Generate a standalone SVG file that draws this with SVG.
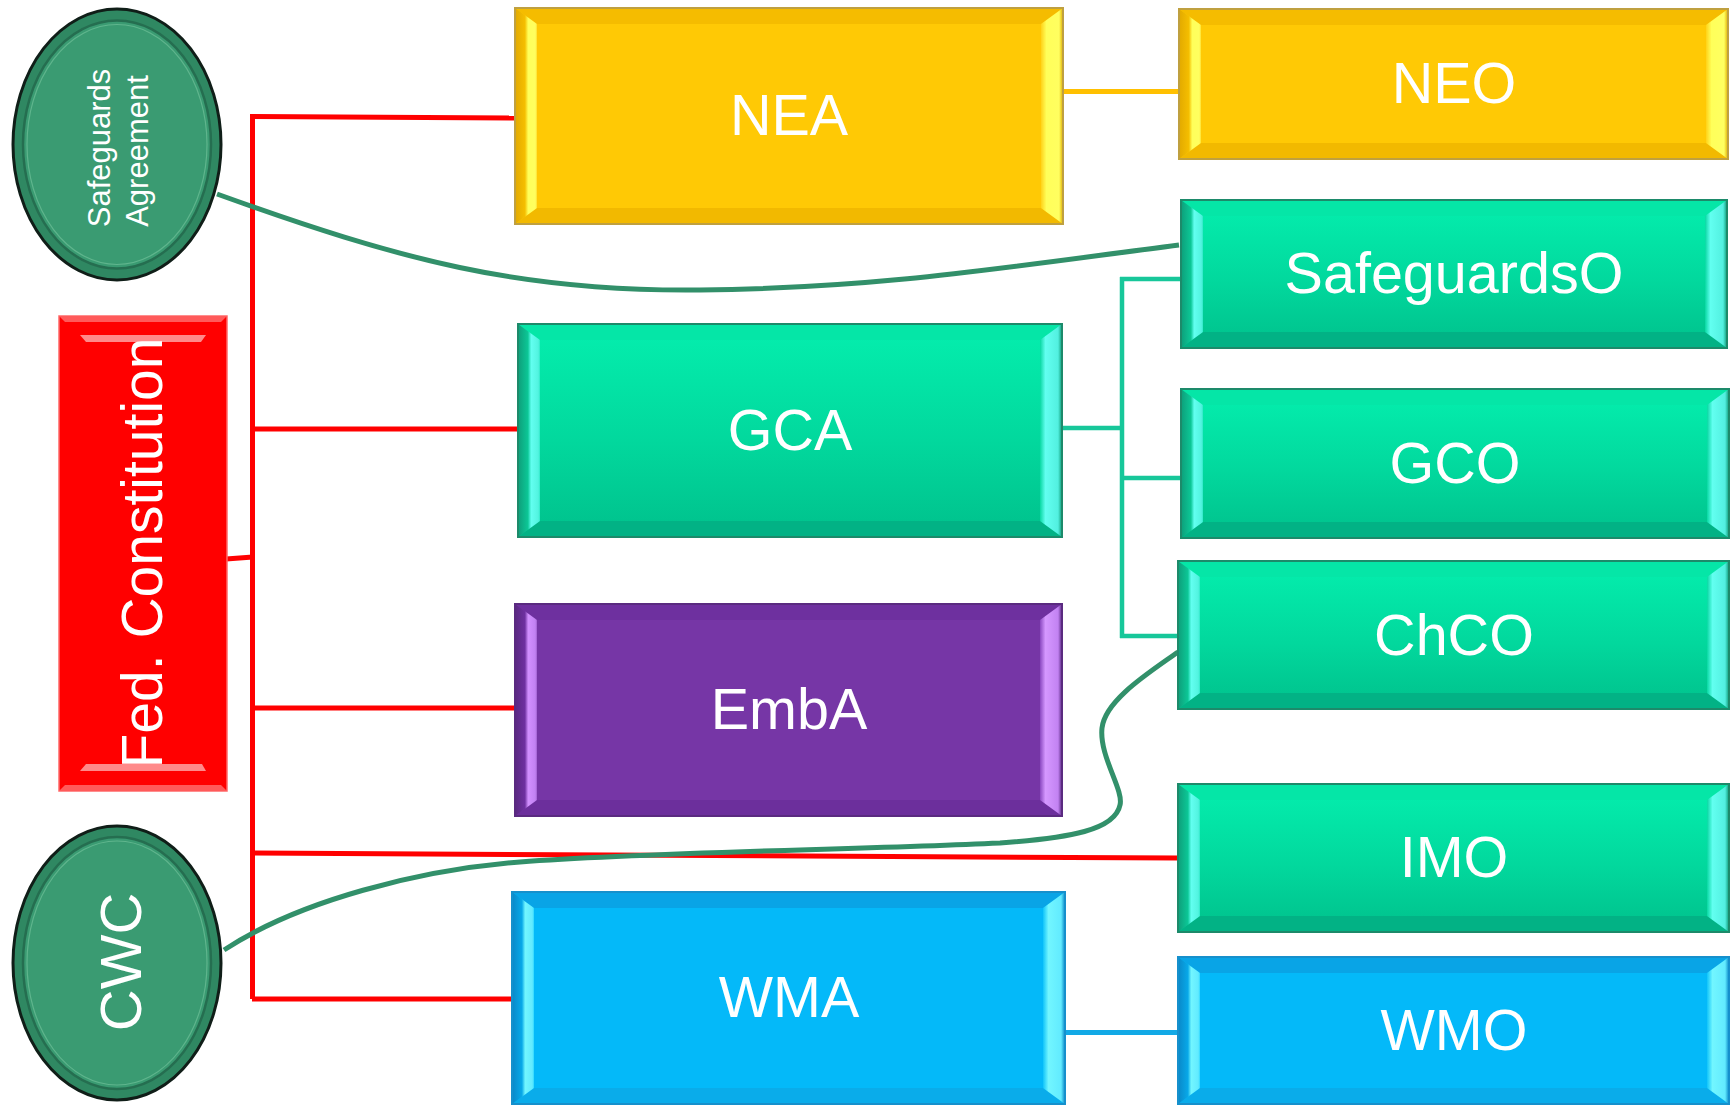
<svg xmlns="http://www.w3.org/2000/svg" width="1733" height="1105" viewBox="0 0 1733 1105">
<defs>
<style>
.lbl{font-family:"Liberation Sans",Arial,sans-serif;fill:#fff;text-anchor:middle;font-size:57.5px}
.edge{fill:none}
.red{stroke:#FF0000;stroke-width:5}
.teal{stroke:#17C79A;stroke-width:4.5}
.grn{stroke:#32906A;stroke-width:5}
.yel{stroke:#FFC000;stroke-width:5}
.blu{stroke:#12A9E6;stroke-width:5}
.rim{fill:none;stroke-width:2}
.yellow .face{fill:#FFC905}.yellow .l{fill:url(#yL)}.yellow .r{fill:url(#yR)}.yellow .t{fill:#F5BC00}.yellow .b{fill:#F2B900}.yellow .rim{stroke:#BFA040}
.tealbox .face{fill:url(#tF)}.tealbox .l{fill:url(#tL)}.tealbox .r{fill:url(#tR)}.tealbox .t{fill:#05E6A7}.tealbox .b{fill:#02B285}.tealbox .rim{stroke:#1D8A6A}
.purple .face{fill:#7636A6}.purple .l{fill:url(#pL)}.purple .r{fill:url(#pR)}.purple .t{fill:#6E309F}.purple .b{fill:#6C2F9C}.purple .rim{stroke:#5A2A80}
.blue .face{fill:#04B9F9}.blue .l{fill:url(#bL)}.blue .r{fill:url(#bR)}.blue .t{fill:#09A4E6}.blue .b{fill:#0AACEA}.blue .rim{stroke:#1690CC}
.oval .outer{fill:#2F8862;stroke:#101E18;stroke-width:3}
.oval .inner{fill:#3A9B72;stroke:#256E50;stroke-width:2.5}
.oval .hl{fill:none;stroke:#5FB58D;stroke-width:1.2}
</style>
<linearGradient id="tF" x1="0" y1="0" x2="0" y2="1"><stop offset="0" stop-color="#04EFAE"/><stop offset="0.55" stop-color="#02D89D"/><stop offset="1" stop-color="#00C18C"/></linearGradient>
<linearGradient id="yL" x1="0" y1="0" x2="1" y2="0"><stop offset="0" stop-color="#E2A900"/><stop offset="0.45" stop-color="#F5BE00"/><stop offset="0.6" stop-color="#FFFF5A"/><stop offset="0.92" stop-color="#FFFF60"/><stop offset="1" stop-color="#FFE030"/></linearGradient>
<linearGradient id="yR" x1="0" y1="0" x2="1" y2="0"><stop offset="0" stop-color="#FFD218"/><stop offset="0.25" stop-color="#FFFF5A"/><stop offset="0.82" stop-color="#FFFF60"/><stop offset="1" stop-color="#E0AC00"/></linearGradient>
<linearGradient id="tL" x1="0" y1="0" x2="1" y2="0"><stop offset="0" stop-color="#0E9E7A"/><stop offset="0.45" stop-color="#0CC796"/><stop offset="0.6" stop-color="#62FFF0"/><stop offset="0.92" stop-color="#52F4E0"/><stop offset="1" stop-color="#30E8C8"/></linearGradient>
<linearGradient id="tR" x1="0" y1="0" x2="1" y2="0"><stop offset="0" stop-color="#08D8A2"/><stop offset="0.25" stop-color="#62FFF0"/><stop offset="0.82" stop-color="#52F0E0"/><stop offset="1" stop-color="#0E9A76"/></linearGradient>
<linearGradient id="pL" x1="0" y1="0" x2="1" y2="0"><stop offset="0" stop-color="#5A2882"/><stop offset="0.45" stop-color="#6E30A0"/><stop offset="0.6" stop-color="#D290FF"/><stop offset="0.92" stop-color="#C282F2"/><stop offset="1" stop-color="#A060D0"/></linearGradient>
<linearGradient id="pR" x1="0" y1="0" x2="1" y2="0"><stop offset="0" stop-color="#8A48C0"/><stop offset="0.25" stop-color="#D598FF"/><stop offset="0.82" stop-color="#C282F2"/><stop offset="1" stop-color="#5A2882"/></linearGradient>
<linearGradient id="bL" x1="0" y1="0" x2="1" y2="0"><stop offset="0" stop-color="#0A88C8"/><stop offset="0.45" stop-color="#08A8E8"/><stop offset="0.6" stop-color="#72F6FF"/><stop offset="0.92" stop-color="#62EBFF"/><stop offset="1" stop-color="#30D8FF"/></linearGradient>
<linearGradient id="bR" x1="0" y1="0" x2="1" y2="0"><stop offset="0" stop-color="#10C4FA"/><stop offset="0.25" stop-color="#72F6FF"/><stop offset="0.82" stop-color="#62EBFF"/><stop offset="1" stop-color="#0A88C8"/></linearGradient>
</defs>
<rect width="1733" height="1105" fill="#fff"/>

<g id="connectors">
  <path class="edge red" d="M252.5,115 V999"/>
  <path class="edge red" d="M250,116.5 L515,118"/>
  <path class="edge red" d="M252,429 H518"/>
  <path class="edge red" d="M252,708 H515"/>
  <path class="edge red" d="M252,853 L1178,858"/>
  <path class="edge red" d="M252,999 H512"/>
  <path class="edge red" d="M226,559 L253,557"/>
  <path class="edge yel" d="M1063,91.5 H1179"/>
  <path class="edge teal" d="M1062,428 H1122 M1122,277 V638 M1120,279 H1181 M1122,478 H1181 M1120,636 H1178"/>
  <path class="edge blu" d="M1065,1032.5 H1178"/>
  <path class="edge grn" d="M217,194 C400,260 520,292 700,290 C880,288 1000,268 1179,245"/>
  <path class="edge grn" d="M1178,652 C1150,672 1105,700 1102,728 C1099,756 1124,790 1120,805 C1115,830 1070,838 1000,843 C850,850 650,852 520,862 C420,870 300,900 224,950"/>
</g>

<g id="SafeguardsAgreement" class="oval">
  <ellipse class="outer" cx="117" cy="144.5" rx="104" ry="135.5"/>
  <ellipse class="inner" cx="117" cy="144.5" rx="94" ry="124"/>
  <ellipse class="hl" cx="117" cy="144.5" rx="90" ry="120"/>
  <text class="lbl" style="font-size:31px" transform="translate(110,148) rotate(-90)">Safeguards</text>
  <text class="lbl" style="font-size:31px" transform="translate(148,151) rotate(-90)">Agreement</text>
</g>

<g id="CWC" class="oval">
  <ellipse class="outer" cx="117" cy="963" rx="104" ry="137"/>
  <ellipse class="inner" cx="117" cy="963" rx="94" ry="126"/>
  <ellipse class="hl" cx="117" cy="963" rx="90" ry="122"/>
  <text class="lbl" style="font-size:58px" transform="translate(141,962) rotate(-90)">CWC</text>
</g>

<g id="FedConstitution">
  <rect x="59" y="316" width="168" height="475" fill="#FF0000" stroke="#FF6A6A" stroke-width="1.5"/>
  <polygon points="59,316 227,316 221,322 65,322" fill="#FF5A5A"/>
  <polygon points="59,791 227,791 221,785 65,785" fill="#FF5A5A"/>
  <polygon points="80,335 206,335 201,342 86,342" fill="#FF8A8A"/>
  <polygon points="86,764 202,764 206,771 80,771" fill="#FF8A8A"/>
  <text class="lbl" style="font-size:57px" transform="translate(162,553) rotate(-90)">Fed. Constitution</text>
</g>

<g id="NEA" class="yellow">
  <rect class="face" x="515" y="8" width="548" height="216"/>
  <path class="t" d="M515,8 h548 l-22,16 h-504 z"/>
  <path class="b" d="M515,224 h548 l-22,-16 h-504 z"/>
  <path class="l" d="M515,8 l22,16 v184 l-22,16 z"/>
  <path class="r" d="M1063,8 l-22,16 v184 l22,16 z"/>
  <rect class="rim" x="515" y="8" width="548" height="216"/>
  <text class="lbl" x="789" y="135">NEA</text>
</g>

<g id="NEO" class="yellow">
  <rect class="face" x="1179" y="9" width="549" height="150"/>
  <path class="t" d="M1179,9 h549 l-22,16 h-505 z"/>
  <path class="b" d="M1179,159 h549 l-22,-16 h-505 z"/>
  <path class="l" d="M1179,9 l22,16 v118 l-22,16 z"/>
  <path class="r" d="M1728,9 l-22,16 v118 l22,16 z"/>
  <rect class="rim" x="1179" y="9" width="549" height="150"/>
  <text class="lbl" x="1454" y="103">NEO</text>
</g>

<g id="SafeguardsO" class="tealbox">
  <rect class="face" x="1181" y="200" width="546" height="148"/>
  <path class="t" d="M1181,200 h546 l-22,16 h-502 z"/>
  <path class="b" d="M1181,348 h546 l-22,-16 h-502 z"/>
  <path class="l" d="M1181,200 l22,16 v116 l-22,16 z"/>
  <path class="r" d="M1727,200 l-22,16 v116 l22,16 z"/>
  <rect class="rim" x="1181" y="200" width="546" height="148"/>
  <text class="lbl" x="1454" y="293">SafeguardsO</text>
</g>

<g id="GCA" class="tealbox">
  <rect class="face" x="518" y="324" width="544" height="213"/>
  <path class="t" d="M518,324 h544 l-22,16 h-500 z"/>
  <path class="b" d="M518,537 h544 l-22,-16 h-500 z"/>
  <path class="l" d="M518,324 l22,16 v181 l-22,16 z"/>
  <path class="r" d="M1062,324 l-22,16 v181 l22,16 z"/>
  <rect class="rim" x="518" y="324" width="544" height="213"/>
  <text class="lbl" x="790" y="450">GCA</text>
</g>

<g id="GCO" class="tealbox">
  <rect class="face" x="1181" y="389" width="548" height="149"/>
  <path class="t" d="M1181,389 h548 l-22,16 h-504 z"/>
  <path class="b" d="M1181,538 h548 l-22,-16 h-504 z"/>
  <path class="l" d="M1181,389 l22,16 v117 l-22,16 z"/>
  <path class="r" d="M1729,389 l-22,16 v117 l22,16 z"/>
  <rect class="rim" x="1181" y="389" width="548" height="149"/>
  <text class="lbl" x="1455" y="483">GCO</text>
</g>

<g id="ChCO" class="tealbox">
  <rect class="face" x="1178" y="561" width="551" height="148"/>
  <path class="t" d="M1178,561 h551 l-22,16 h-507 z"/>
  <path class="b" d="M1178,709 h551 l-22,-16 h-507 z"/>
  <path class="l" d="M1178,561 l22,16 v116 l-22,16 z"/>
  <path class="r" d="M1729,561 l-22,16 v116 l22,16 z"/>
  <rect class="rim" x="1178" y="561" width="551" height="148"/>
  <text class="lbl" x="1454" y="655">ChCO</text>
</g>

<g id="EmbA" class="purple">
  <rect class="face" x="515" y="604" width="547" height="212"/>
  <path class="t" d="M515,604 h547 l-22,16 h-503 z"/>
  <path class="b" d="M515,816 h547 l-22,-16 h-503 z"/>
  <path class="l" d="M515,604 l22,16 v180 l-22,16 z"/>
  <path class="r" d="M1062,604 l-22,16 v180 l22,16 z"/>
  <rect class="rim" x="515" y="604" width="547" height="212"/>
  <text class="lbl" x="789" y="729">EmbA</text>
</g>

<g id="IMO" class="tealbox">
  <rect class="face" x="1178" y="784" width="551" height="148"/>
  <path class="t" d="M1178,784 h551 l-22,16 h-507 z"/>
  <path class="b" d="M1178,932 h551 l-22,-16 h-507 z"/>
  <path class="l" d="M1178,784 l22,16 v116 l-22,16 z"/>
  <path class="r" d="M1729,784 l-22,16 v116 l22,16 z"/>
  <rect class="rim" x="1178" y="784" width="551" height="148"/>
  <text class="lbl" x="1454" y="877">IMO</text>
</g>

<g id="WMA" class="blue">
  <rect class="face" x="512" y="892" width="553" height="212"/>
  <path class="t" d="M512,892 h553 l-22,16 h-509 z"/>
  <path class="b" d="M512,1104 h553 l-22,-16 h-509 z"/>
  <path class="l" d="M512,892 l22,16 v180 l-22,16 z"/>
  <path class="r" d="M1065,892 l-22,16 v180 l22,16 z"/>
  <rect class="rim" x="512" y="892" width="553" height="212"/>
  <text class="lbl" x="789" y="1017">WMA</text>
</g>

<g id="WMO" class="blue">
  <rect class="face" x="1178" y="957" width="551" height="147"/>
  <path class="t" d="M1178,957 h551 l-22,16 h-507 z"/>
  <path class="b" d="M1178,1104 h551 l-22,-16 h-507 z"/>
  <path class="l" d="M1178,957 l22,16 v115 l-22,16 z"/>
  <path class="r" d="M1729,957 l-22,16 v115 l22,16 z"/>
  <rect class="rim" x="1178" y="957" width="551" height="147"/>
  <text class="lbl" x="1454" y="1050">WMO</text>
</g>
</svg>
